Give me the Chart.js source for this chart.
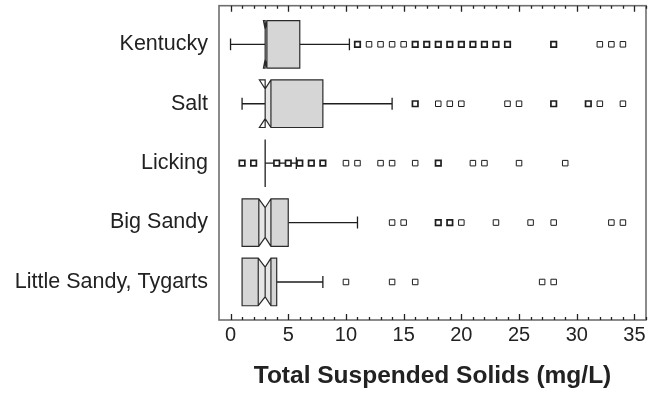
<!DOCTYPE html>
<html>
<head>
<meta charset="utf-8">
<script src="https://cdn.jsdelivr.net/npm/chart.js@4.4.1/dist/chart.umd.min.js"></script>
<style>
  html, body { margin: 0; padding: 0; background: #fff; }
  canvas { display: block; }
</style>
</head>
<body>
<canvas id="tssChart" width="656" height="393"></canvas>
<script>
// Basins, top to bottom
const rivers = ['Kentucky', 'Salt', 'Licking', 'Big Sandy', 'Little Sandy, Tygarts'];

// Box statistics (mg/L)
const whiskerLow  = [0, 1, 3, 1, 1];
const quartile1   = [3, 3, 3, 1, 1];
const medians     = [3, 3, 3, 3, 3];
const quartile3   = [6, 8, 3, 5, 4];
const whiskerHigh = [10.3, 14, 5.7, 11, 8];
const notchLow    = [2.85, 2.5, null, 2.45, 2.4];
const notchHigh   = [3.15, 3.5, null, 3.5, 3.5];

// Outliers: open squares (outside) and crossed squares (far outside)
const outsideValues = [
    [11, 12, 13, 14, 15],
    [16, 18, 19, 20],
    [],
    [14, 15],
    [10]
];
const farOutsideValues = [
    [16, 17, 18, 19, 20, 21, 22, 23, 24, 28, 32, 33, 34],
    [24, 25, 28, 31, 32, 34],
    [1, 2, 4, 5, 6, 7, 8, 10, 11, 13, 14, 16, 18, 21, 22, 25, 29],
    [18, 19, 20, 23, 26, 28, 33, 34],
    [14, 16, 27, 28]
];
// values where several samples pile up on one symbol
const stackedValues = [
    [11, 16, 17, 18, 19, 20, 21, 22, 23, 24, 28],
    [16, 28, 31],
    [1, 2, 4, 5, 6, 7, 8, 18],
    [18, 19],
    []
];

const xTickValues = [0, 5, 10, 15, 20, 25, 30, 35];

const BOX_HALF = 0.4;
const NOTCH_DEPTH = 0.15;
const CAP_HALF = 0.1;
const FONT = "'Liberation Sans', Arial, Helvetica, sans-serif";

function toPoints(groups) {
    const pts = [];
    groups.forEach((vals, i) => {
        vals.forEach(v => pts.push({ x: v, y: i, stacked: stackedValues[i].includes(v) }));
    });
    return pts;
}

const heavy = ctx => (ctx.raw && ctx.raw.stacked ? 1.7 : 1);

// keep the plot area exactly where the layout puts it
function noEdgePadding(s) {
    s.paddingTop = 0;
    s.paddingBottom = 0;
    s.paddingLeft = 0;
    s.paddingRight = 0;
}

const boxPlotPlugin = {
    id: 'boxPlot',
    beforeDatasetsDraw(chart) {
        const { ctx, scales: { x, y } } = chart;
        const px = v => x.getPixelForValue(v);

        ctx.save();
        ctx.lineJoin = 'miter';
        rivers.forEach((name, i) => {
            const cy = y.getPixelForValue(i);
            const top = y.getPixelForValue(i - BOX_HALF);
            const bot = y.getPixelForValue(i + BOX_HALF);
            const topIn = y.getPixelForValue(i - BOX_HALF + NOTCH_DEPTH);
            const botIn = y.getPixelForValue(i + BOX_HALF - NOTCH_DEPTH);
            const capTop = y.getPixelForValue(i - CAP_HALF);
            const capBot = y.getPixelForValue(i + CAP_HALF);
            const q1 = px(quartile1[i]), q3 = px(quartile3[i]), med = px(medians[i]);

            // whiskers with end caps
            ctx.strokeStyle = '#1e1e1e';
            ctx.lineWidth = 1.3;
            ctx.beginPath();
            if (whiskerLow[i] < quartile1[i]) {
                const w = px(whiskerLow[i]);
                ctx.moveTo(w, cy); ctx.lineTo(q1, cy);
                ctx.moveTo(w, capTop); ctx.lineTo(w, capBot);
            }
            if (whiskerHigh[i] > quartile3[i]) {
                const w = px(whiskerHigh[i]);
                ctx.moveTo(q3, cy); ctx.lineTo(w, cy);
                ctx.moveTo(w, capTop); ctx.lineTo(w, capBot);
            }
            ctx.stroke();

            if (notchLow[i] === null) {
                // collapsed box: a single line
                ctx.beginPath();
                ctx.moveTo(q1, top); ctx.lineTo(q1, bot);
                ctx.stroke();
                return;
            }

            const nLo = px(notchLow[i]), nHi = px(notchHigh[i]);
            const a = Math.max(nLo, q1), b = Math.min(nHi, q3);

            // box body with the notch cut out
            ctx.fillStyle = '#d6d6d6';
            ctx.beginPath();
            ctx.moveTo(q1, top); ctx.lineTo(a, top); ctx.lineTo(med, topIn); ctx.lineTo(b, top);
            ctx.lineTo(q3, top); ctx.lineTo(q3, bot); ctx.lineTo(b, bot); ctx.lineTo(med, botIn);
            ctx.lineTo(a, bot); ctx.lineTo(q1, bot); ctx.closePath();
            ctx.fill();

            // lighter band across the notch
            ctx.fillStyle = '#e6e6e6';
            ctx.beginPath();
            ctx.moveTo(a, top); ctx.lineTo(med, topIn); ctx.lineTo(b, top);
            ctx.lineTo(b, bot); ctx.lineTo(med, botIn); ctx.lineTo(a, bot); ctx.closePath();
            ctx.fill();

            // outline
            ctx.strokeStyle = '#2a2a2a';
            ctx.lineWidth = 1.2;
            ctx.beginPath();
            ctx.moveTo(q1, top); ctx.lineTo(nLo, top); ctx.lineTo(med, topIn); ctx.lineTo(nHi, top);
            ctx.lineTo(q3, top); ctx.lineTo(q3, bot); ctx.lineTo(nHi, bot); ctx.lineTo(med, botIn);
            ctx.lineTo(nLo, bot); ctx.lineTo(q1, bot); ctx.closePath();
            ctx.moveTo(med, topIn); ctx.lineTo(med, botIn);
            if (a > q1) { ctx.moveTo(a, top); ctx.lineTo(a, bot); }
            if (b < q3) { ctx.moveTo(b, top); ctx.lineTo(b, bot); }
            ctx.stroke();
        });
        ctx.restore();
    },
    afterDraw(chart) {
        const { ctx, chartArea: area, scales: { x } } = chart;
        ctx.save();
        // frame
        ctx.strokeStyle = '#6e6e6e';
        ctx.lineWidth = 1.6;
        ctx.strokeRect(area.left, area.top, area.right - area.left, area.bottom - area.top);
        // inward tick marks on top and bottom, every 1 mg/L
        ctx.strokeStyle = '#222';
        ctx.lineWidth = 1.3;
        ctx.beginPath();
        for (let v = x.min; v <= x.max; v++) {
            if (v < 0) continue;
            const p = Math.round(x.getPixelForValue(v)) + 0.5;
            const len = v % 5 === 0 ? 6 : 3;
            ctx.moveTo(p, area.bottom); ctx.lineTo(p, area.bottom - len);
            ctx.moveTo(p, area.top); ctx.lineTo(p, area.top + len);
        }
        ctx.stroke();
        ctx.restore();
    }
};

const chart = new Chart(document.getElementById('tssChart'), {
    type: 'scatter',
    data: {
        datasets: [
            {
                label: 'outside',
                data: toPoints(outsideValues),
                pointStyle: 'rect',
                pointRadius: 3.9,
                backgroundColor: '#fff',
                borderColor: '#1e1e1e',
                borderWidth: heavy
            },
            {
                label: 'far outside',
                data: toPoints(farOutsideValues),
                pointStyle: 'rect',
                pointRadius: 3.9,
                backgroundColor: '#fff',
                borderColor: '#1e1e1e',
                borderWidth: heavy
            },
            {
                label: 'far outside cross',
                data: toPoints(farOutsideValues),
                pointStyle: 'cross',
                pointRadius: 2.8,
                borderColor: '#1e1e1e',
                borderWidth: 1
            }
        ]
    },
    options: {
        responsive: false,
        animation: false,
        devicePixelRatio: 1,
        layout: { padding: { top: 4, right: 10, bottom: 0, left: 0 } },
        plugins: {
            legend: { display: false },
            tooltip: { enabled: false }
        },
        scales: {
            x: {
                type: 'linear',
                position: 'bottom',
                min: -1,
                max: 36,
                afterBuildTicks: s => { s.ticks = xTickValues.map(v => ({ value: v })); },
                afterFit: s => { s.height = 73; noEdgePadding(s); },
                grid: { display: false, drawTicks: false },
                border: { display: false },
                ticks: {
                    autoSkip: false,
                    maxRotation: 0,
                    padding: 3,
                    color: '#222',
                    font: { family: FONT, size: 20 }
                },
                title: {
                    display: true,
                    text: 'Total Suspended Solids (mg/L)',
                    color: '#222',
                    padding: { top: 0, bottom: 2 },
                    font: { family: FONT, size: 24.5, weight: 'bold' }
                }
            },
            y: {
                type: 'linear',
                reverse: true,
                min: -0.65,
                max: 4.64,
                afterBuildTicks: s => { s.ticks = rivers.map((_, i) => ({ value: i })); },
                afterFit: s => { s.width = 219; noEdgePadding(s); },
                grid: { display: false, drawTicks: false },
                border: { display: false },
                ticks: {
                    autoSkip: false,
                    padding: 11,
                    color: '#222',
                    font: { family: FONT, size: 21.5 },
                    callback: v => rivers[v]
                }
            }
        }
    },
    plugins: [boxPlotPlugin]
});
</script>
</body>
</html>
